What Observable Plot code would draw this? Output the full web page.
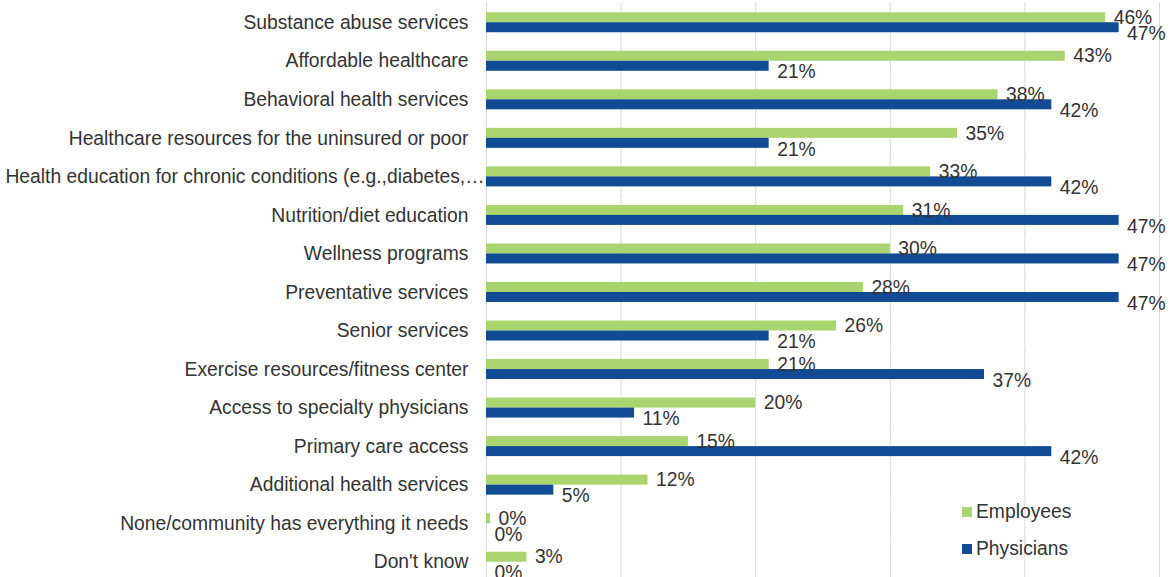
<!DOCTYPE html>
<html>
<head>
<meta charset="utf-8">
<script src="https://cdn.jsdelivr.net/npm/d3@7"></script>
<script src="https://cdn.jsdelivr.net/npm/@observablehq/plot@0.6"></script>
<style>
  html, body { margin: 0; padding: 0; background: #fff; overflow: hidden; }
  #wrap { position: relative; width: 1175px; height: 577px; font-family: "Liberation Sans", Arial, sans-serif; }
  #legend { position: absolute; left: 962px; top: 499px; font-size: 19.3px; color: #333; }
  #legend .row { display: flex; align-items: center; height: 26px; margin-bottom: 11px; }
  #legend .sw { width: 10px; height: 10px; margin-right: 4px; }
</style>
</head>
<body>
<div id="wrap"><div id="chart"></div><div id="legend"></div></div>
<script>
const categories = [
  "Substance abuse services",
  "Affordable healthcare",
  "Behavioral health services",
  "Healthcare resources for the uninsured or poor",
  "Health education for chronic conditions (e.g.,diabetes,…",
  "Nutrition/diet education",
  "Wellness programs",
  "Preventative services",
  "Senior services",
  "Exercise resources/fitness center",
  "Access to specialty physicians",
  "Primary care access",
  "Additional health services",
  "None/community has everything it needs",
  "Don't know"
];
const employees  = [46, 43, 38, 35, 33, 31, 30, 28, 26, 21, 20, 15, 12, 0.3, 3];
const physicians = [47, 21, 42, 21, 42, 47, 47, 47, 21, 37, 11, 42, 5, 0, 0];
const seriesNames = ["Employees", "Physicians"];
const seriesColors = ["#a8d56e", "#104b93"];
const gridTicks = [0, 10, 20, 30, 40, 50];
const truncatedLabel = categories[4];

const rows = [];
categories.forEach((c, i) => {
  rows.push({category: c, series: "Employees", value: employees[i]});
  rows.push({category: c, series: "Physicians", value: physicians[i]});
});

const fmt = d => Math.round(d.value) + "%";

const chart = Plot.plot({
  width: 1175,
  height: 581,
  marginLeft: 486,
  marginRight: 16,
  marginTop: 3,
  marginBottom: 0,
  style: {fontSize: "19.3px", fontFamily: "'Liberation Sans', Arial, sans-serif", color: "#333", overflow: "visible"},
  x: {domain: [0, 50], axis: null},
  y: {domain: seriesNames, padding: 0, axis: null},
  fy: {domain: categories, paddingInner: 0.48, paddingOuter: 0.24, round: false, axis: null},
  color: {domain: seriesNames, range: seriesColors},
  marks: [
    Plot.axisFy({ticks: categories.filter(c => c !== truncatedLabel), anchor: "left", tickSize: 0, tickPadding: 18, label: null}),
    Plot.axisFy({ticks: [truncatedLabel], anchor: "left", tickSize: 0, tickPadding: 2, label: null}),
    Plot.ruleX(gridTicks, {stroke: "#d9d9d9", strokeWidth: 1, insetTop: -10, insetBottom: -10}),
    Plot.barX(rows, {x: "value", y: "series", fy: "category", fill: "series"}),
    Plot.text(rows.filter(d => d.series === "Employees"), {x: "value", y: "series", fy: "category", text: fmt, textAnchor: "start", dx: 8, fill: "#333"}),
    Plot.text(rows.filter(d => d.series === "Physicians"), {x: "value", y: "series", fy: "category", text: fmt, textAnchor: "start", dx: 8, dy: 6, fill: "#333"})
  ]
});
document.getElementById("chart").appendChild(chart);

const legend = document.getElementById("legend");
seriesNames.forEach((s, i) => {
  const row = document.createElement("div");
  row.className = "row";
  const sw = document.createElement("span");
  sw.className = "sw";
  sw.style.background = seriesColors[i];
  const t = document.createElement("span");
  t.textContent = s;
  row.appendChild(sw);
  row.appendChild(t);
  legend.appendChild(row);
});
</script>
</body>
</html>
